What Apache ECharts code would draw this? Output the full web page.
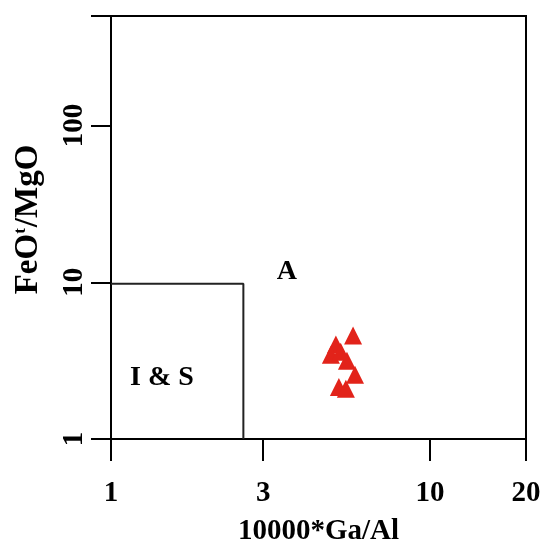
<!DOCTYPE html>
<html>
<head>
<meta charset="utf-8">
<script src="https://cdn.jsdelivr.net/npm/echarts@6/dist/echarts.min.js"></script>
<style>
html,body{margin:0;padding:0;background:#fff;}
#main{width:544px;height:548px;}
</style>
</head>
<body>
<div id="main"></div>
<script>
// 10000*Ga/Al vs FeOt/MgO samples
var gaAl = [5.74, 5.07, 4.89, 5.49, 5.25, 5.82, 5.18, 5.45];
var feoMgo = [4.57, 4.01, 3.45, 3.16, 3.6, 2.57, 2.15, 2.09];

// I & S field boundary
var boxX = [1, 2.6, 2.6];
var boxY = [9.8, 9.8, 1];

var fieldNames = ['A', 'I & S'];
var fieldX = [3.56, 1.445];
var fieldY = [11.6, 2.45];

var xTicks = [1, 3, 10, 20];
var yTicks = [1, 10, 100, 500];
var yLabels = [1, 10, 100];

var font = 'Liberation Serif';

function pairs(a, b){
	var out = [];
	for (var i = 0; i < a.length; i++) out.push([a[i], b[i]]);
	return out;
}

var myChart = echarts.init(document.getElementById('main'));

var option = {
	animation: false,
	backgroundColor: '#fff',
	grid: {
		left: 111,
		right: 18,
		top: 16,
		bottom: 109,
		outerBoundsMode: 'none',
		show: true,
		borderColor: '#000',
		borderWidth: 2,
		backgroundColor: 'transparent'
	},
	xAxis: {
		type: 'log',
		logBase: 10,
		min: 1,
		max: 20,
		name: '10000*Ga/Al',
		nameLocation: 'middle',
		nameGap: 78,
		nameTextStyle: {
			color: '#000',
			fontFamily: font,
			fontWeight: 'bold',
			fontSize: 29
		},
		axisLine: {lineStyle: {color: '#000', width: 2}},
		axisTick: {
			inside: false,
			length: 22,
			lineStyle: {color: '#000', width: 2},
			customValues: xTicks
		},
		axisLabel: {
			margin: 40,
			color: '#000',
			fontFamily: font,
			fontWeight: 'bold',
			fontSize: 29,
			customValues: xTicks
		},
		splitLine: {show: false},
		minorTick: {show: false}
	},
	yAxis: {
		type: 'log',
		logBase: 10,
		min: 1,
		max: 500,
		name: 'FeO{sup|t}/MgO',
		nameLocation: 'middle',
		nameGap: 66,
		nameTextStyle: {
			color: '#000',
			fontFamily: font,
			fontWeight: 'bold',
			fontSize: 33,
			padding: [0, 0, 0, 16],
			rich: {
				sup: {
					fontFamily: font,
					fontWeight: 'bold',
					fontSize: 17,
					verticalAlign: 'top',
					padding: [0, 1, 13, 0]
				}
			}
		},
		axisLine: {lineStyle: {color: '#000', width: 2}},
		axisTick: {
			inside: false,
			length: 20,
			lineStyle: {color: '#000', width: 2},
			customValues: yTicks
		},
		axisLabel: {
			rotate: 90,
			margin: 22,
			color: '#000',
			fontFamily: font,
			fontWeight: 'bold',
			fontSize: 29,
			customValues: yLabels
		},
		splitLine: {show: false},
		minorTick: {show: false}
	},
	series: [
		{
			name: 'field',
			type: 'line',
			data: pairs(boxX, boxY),
			symbol: 'none',
			silent: true,
			lineStyle: {color: '#222', width: 2}
		},
		{
			name: 'labels',
			type: 'scatter',
			symbolSize: 0,
			silent: true,
			itemStyle: {opacity: 1},
			data: fieldNames.map(function (n, i) {
				return {name: n, value: [fieldX[i], fieldY[i]]};
			}),
			label: {
				show: true,
				position: 'inside',
				formatter: '{b}',
				color: '#000',
				fontFamily: font,
				fontWeight: 'bold',
				fontSize: 28
			}
		},
		{
			name: 'samples',
			type: 'scatter',
			symbol: 'triangle',
			symbolSize: [18, 18],
			data: pairs(gaAl, feoMgo),
			itemStyle: {color: '#e2231a', opacity: 1},
			z: 5
		}
	]
};
myChart.setOption(option);
</script>
</body>
</html>
